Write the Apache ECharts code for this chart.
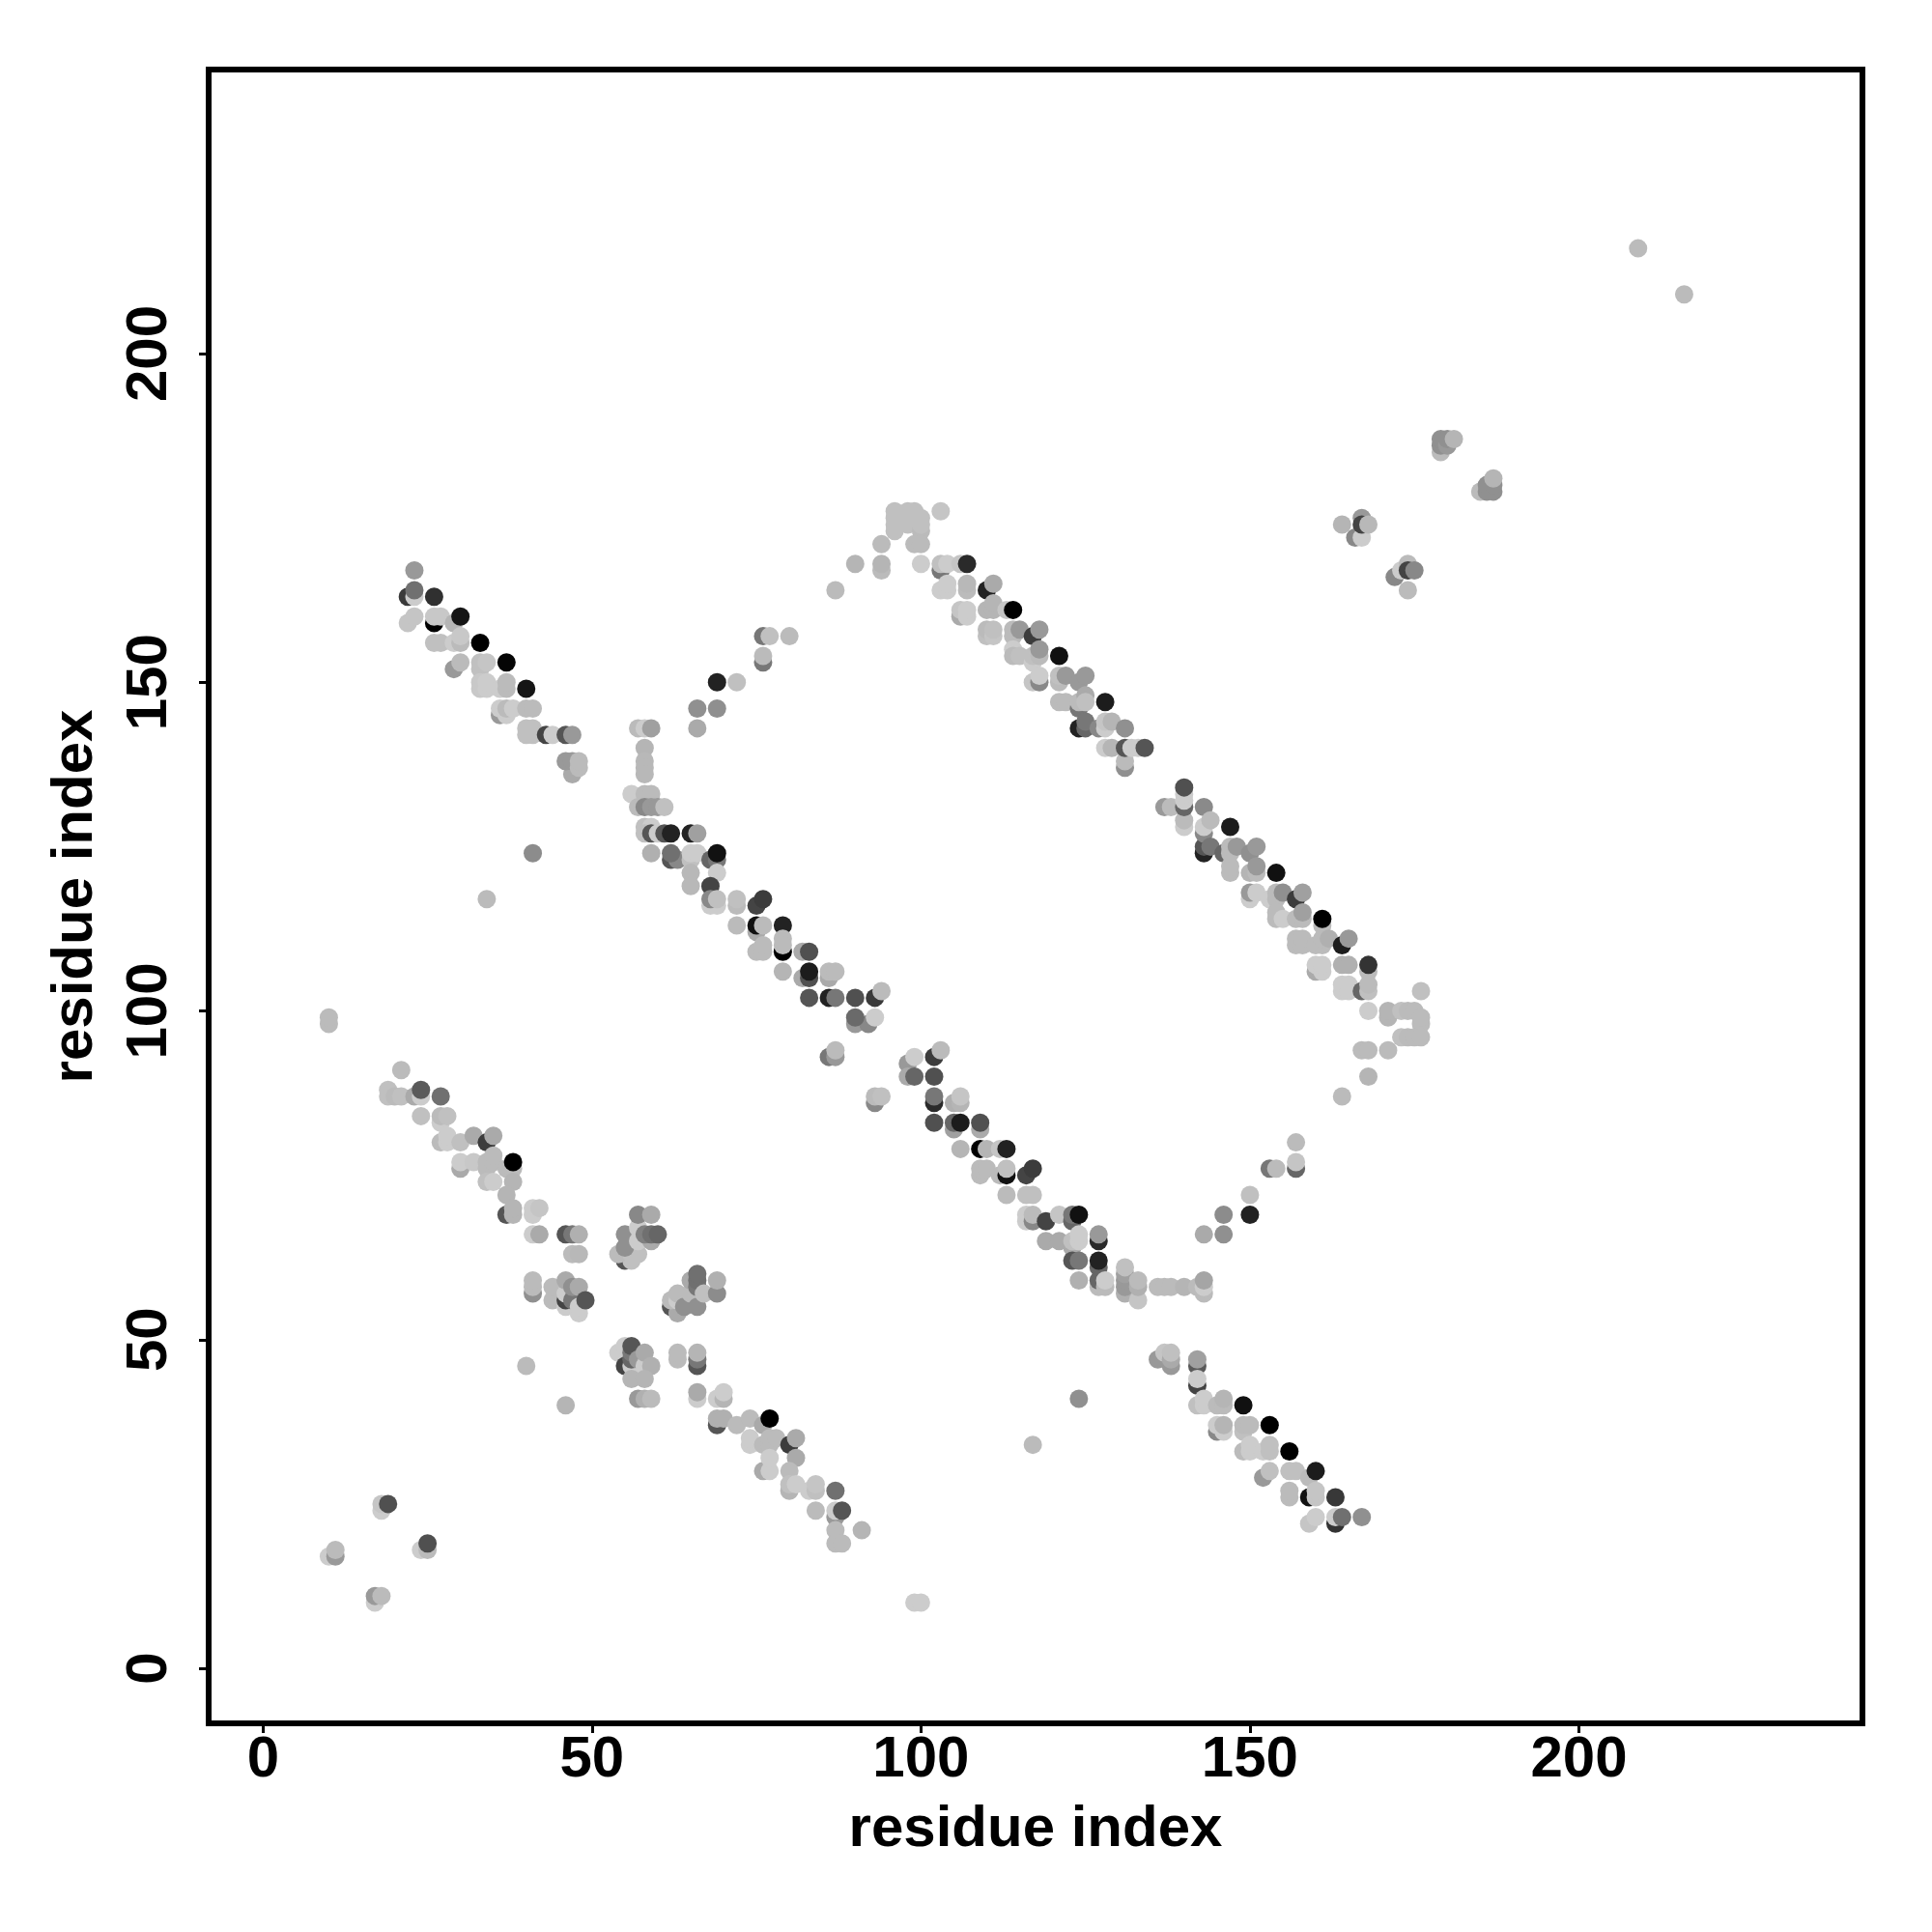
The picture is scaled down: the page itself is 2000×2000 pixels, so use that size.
<!DOCTYPE html>
<html>
<head>
<meta charset="utf-8">
<style>html,body{margin:0;padding:0;background:#fff}#c{width:2000px;height:2000px}</style>
<script src="https://cdn.jsdelivr.net/npm/echarts@6/dist/echarts.min.js"></script>
</head>
<body>
<div id="c"></div>
<script>
// every row: [residue x, residue y, grey level 0-255]
const tickValues = [0, 50, 100, 150, 200];
const axisTitle = 'residue index';

const isolated = [
  [10,98,187],[10,99,187],[99,10,204],[100,10,204],[40,46,187],[46,40,181],[117,34,187],[124,41,144],
  [209,216,187],[216,209,187],[18,24,204],[18,25,197],[19,25,80],[24,18,204],[25,18,187],[25,19,80],
  [10,17,204],[11,17,153],[11,18,187],[17,10,204],[17,11,153],[18,11,187],
  [69,150,34],[72,150,192],[76,153,119],[76,154,187],[76,157,119],[77,157,192],[80,157,187]
];
const upperLeftArm = [
  [23,167,153],[22,163,58],[23,163,204],[23,164,112],[26,163,48],[22,159,197],[23,160,197],[26,159,0],
  [26,160,200],[27,160,200],[29,159,181],[30,160,21],[26,156,192],[27,156,192],[29,156,204],[30,156,187],
  [30,157,200],[33,156,0],[37,153,5],[29,152,153],[30,153,187],[33,152,192],[33,153,192],[34,153,197],
  [33,149,200],[33,150,200],[34,149,204],[34,150,204],[36,149,204],[37,149,187],[37,150,187],[40,149,21],
  [36,145,153],[36,146,204],[37,145,204],[37,146,187],[38,146,204],[40,146,187],[41,146,187],[40,142,192],
  [40,143,192],[41,142,192],[41,143,192],[43,142,68],[44,142,204],[46,142,85],[47,142,153],[47,136,170],
  [46,138,153],[47,138,153],[48,137,187],[48,138,187],[41,124,140],[34,117,187]
];
const centreArm = [
  [66,146,144],[69,146,143],[66,143,170],[57,143,187],[58,143,204],[59,143,160],[58,140,181],[58,138,184],
  [58,137,184],[58,136,184],[56,133,204],[58,133,187],[59,133,187],[57,131,187],[58,131,136],[59,131,153],
  [60,131,153],[61,131,192],[58,128,192],[59,128,204],[58,127,192],[59,127,85],[60,127,204],[61,127,85],
  [62,127,34],[65,127,34],[66,127,160],[59,124,176],[62,123,85],[63,123,136],[62,124,112],[65,123,192],
  [65,124,204],[66,124,204],[68,123,102],[69,123,119],[69,124,17],[65,121,184],[69,121,204],[65,119,184],
  [68,119,68],[68,116,204],[69,116,204],[68,117,136],[69,117,192],[72,116,187],[72,117,192],[75,116,68],
  [76,117,60],[72,113,187],[75,112,170],[75,113,17],[76,113,187],[79,109,0],[79,113,34],[79,111,187],
  [79,110,187],[75,109,187],[76,109,187],[76,110,187],[82,109,170],[83,109,80],[79,106,181],[82,105,170],
  [83,105,80],[83,106,28],[86,105,170],[86,106,187],[87,106,187],[83,102,85],[86,102,34],[87,102,119],
  [90,102,80],[93,102,58],[94,103,187],[90,98,153],[92,98,136],[90,99,106],[93,99,204],[86,93,119],
  [87,93,153],[87,94,187],[98,92,153],[99,93,204],[102,93,60],[103,94,187],[98,90,170],[99,90,102],
  [102,90,80],[93,86,136],[93,87,187],[94,87,192],[102,86,42],[102,87,119],[105,86,176],[106,86,181],
  [106,87,197],[102,83,80],[105,82,160],[105,83,102],[106,83,28],[109,82,170],[109,83,80],[106,79,181],
  [109,79,0],[110,79,181],[112,79,197],[113,79,34],[109,75,187],[109,76,187],[110,76,187],[112,75,187],
  [113,75,17],[113,76,192],[116,75,68],[117,76,60],[113,72,187],[116,72,192],[117,72,192],[116,68,204],
  [116,69,204],[117,68,136],[117,69,187],[119,68,68],[121,69,197],[123,68,102],[123,69,119],[124,69,17],
  [119,65,170],[121,65,170],[123,64,170],[123,65,192],[124,65,204],[124,66,204],[127,65,42],[127,66,153],
  [123,62,85],[124,62,119],[127,61,102],[127,62,34],[127,58,187],[127,59,102],[128,58,187],[128,59,204],
  [124,59,176],[131,57,176],[131,58,153],[131,59,153],[131,60,160],[131,61,192],[133,56,197],[133,58,176],
  [133,59,187],[136,58,187],[137,58,187],[138,58,187],[140,58,181],[142,58,187],[143,57,187],[143,58,204],
  [143,59,165],[143,66,170],[146,66,144],[146,69,140],[150,69,34],[150,72,192],[153,76,119],[154,76,187],
  [157,76,102],[157,77,197],[157,80,187]
];
const upperRightArm = [
  [87,164,187],[90,168,181],[94,167,187],[94,168,181],[94,171,187],[96,173,192],[96,174,192],[96,175,192],
  [96,176,192],[98,176,192],[98,174,192],[99,176,192],[99,175,192],[100,173,187],[100,174,192],[100,175,192],
  [99,171,187],[100,171,187],[103,176,197],[100,168,204],[103,167,119],[103,168,192],[104,168,204],[106,168,197],
  [107,168,42],[103,164,204],[104,164,204],[104,165,204],[107,164,187],[107,165,184],[110,164,34],[111,165,170],
  [106,160,170],[106,161,197],[107,160,204],[107,161,204],[110,161,181],[111,161,181],[111,162,181],[113,161,197],
  [114,161,0],[110,157,192],[110,158,187],[111,157,197],[111,158,192],[114,157,187],[114,158,187],[115,158,153],
  [117,157,60],[118,158,153],[114,155,204],[114,154,187],[115,154,192],[117,153,204],[117,154,192],[118,154,187],
  [118,155,153],[121,154,17],[117,150,197],[118,150,136],[118,151,204],[121,150,187],[121,151,192],[122,151,153],
  [124,150,153],[125,151,153],[121,147,187],[122,147,187],[124,146,119],[124,147,187],[125,148,170],[125,147,192],
  [128,147,28],[124,143,34],[125,143,102],[125,144,119],[127,143,136],[128,143,204],[128,144,197],[129,144,181],
  [131,143,144],[128,140,204],[129,140,181],[131,137,144],[131,138,187],[131,140,85],[132,140,204],[133,140,204],
  [134,140,85],[137,131,153],[138,131,187],[140,128,204],[140,129,187],[140,131,102],[140,132,204],[140,133,204],
  [140,134,80],[143,131,138],[143,124,34],[143,125,85],[143,127,136],[144,125,119],[143,128,204],[144,129,187],
  [147,128,28],[146,124,102],[147,121,187],[147,122,187],[147,124,187],[147,125,187],[148,125,153],[150,124,144],
  [151,125,153],[150,121,181],[151,121,187],[151,122,153],[154,121,17],[150,117,204],[150,118,153],[151,118,204],
  [153,117,204],[154,117,187],[154,118,187],[155,118,144],[157,117,60],[158,118,160],[154,114,187],[154,115,187],
  [155,114,204],[157,114,187],[158,114,187],[158,115,160],[161,113,187],[161,114,0],[157,110,187],[157,111,187],
  [158,110,187],[158,111,187],[160,106,170],[160,110,187],[160,107,204],[161,106,204],[161,107,204],[161,110,187],
  [161,111,187],[162,111,176],[164,110,28],[165,111,153],[164,107,176],[165,107,176],[168,106,187],[168,107,51],
  [164,103,204],[164,104,204],[165,103,204],[165,104,204],[167,103,102],[168,103,192],[168,104,187],[168,100,204],
  [176,103,192],[171,99,181],[171,100,181],[173,100,192],[174,100,187],[175,100,187],[176,98,187],[176,99,187],
  [173,96,192],[174,96,187],[175,96,187],[176,96,187],[167,94,187],[168,94,187],[171,94,187],[168,90,181],[164,87,187]
];
const lowerLeftArm = [
  [21,91,187],[19,87,192],[19,88,192],[20,87,187],[21,87,192],[23,87,170],[24,87,204],[24,88,90],[27,87,112],
  [24,84,192],[27,83,204],[27,84,187],[28,84,192],[27,80,187],[28,80,204],[28,81,204],[30,80,192],[32,81,170],
  [34,80,60],[35,81,170],[30,76,170],[30,77,204],[32,77,200],[34,76,187],[34,77,187],[35,77,187],[35,78,187],
  [34,74,192],[35,74,204],[37,76,187],[38,76,187],[38,77,0],[38,74,181],[37,72,181],[37,69,85],[38,69,181],
  [38,70,181],[41,69,204],[41,70,204],[42,70,197],[41,66,204],[42,66,170],[46,66,85],[47,66,119],[48,66,176],
  [47,63,187],[48,63,184],[41,57,144],[41,58,187],[41,59,187],[44,56,187],[44,58,187],[46,55,204],[46,56,68],
  [46,57,204],[46,59,170],[47,56,119],[47,58,144],[48,54,204],[48,55,204],[48,58,170],[49,56,85]
];
const middleIsland = [
  [55,62,85],[56,62,192],[54,63,187],[56,63,192],[57,63,192],[55,64,144],[55,66,144],[57,65,204],[57,67,204],
  [57,69,136],[59,69,170],[59,65,170],[58,66,128],[59,66,112],[60,66,102],[62,55,85],[63,54,170],[62,56,187],
  [63,56,204],[64,56,204],[63,57,187],[64,55,144],[65,57,187],[65,59,170],[66,55,144],[66,58,119],[66,59,112],
  [66,60,112],[67,57,192],[69,57,140],[69,59,176]
];
const lowerCentreArm = [
  [54,48,204],[55,49,204],[55,46,68],[56,46,204],[56,47,102],[56,48,119],[56,49,85],[57,47,153],[58,46,204],
  [58,48,170],[59,46,176],[56,44,181],[58,44,181],[57,41,153],[58,41,176],[59,41,187],[63,47,187],[63,48,187],
  [66,46,85],[66,47,119],[66,48,181],[66,41,204],[66,42,170],[69,41,204],[70,41,181],[70,42,204],[69,37,85],
  [69,38,176],[70,38,176],[72,37,187],[74,38,187],[76,37,170],[77,38,0],[74,34,204],[74,35,204],[76,34,187],
  [77,34,187],[77,35,187],[78,35,187],[80,34,60],[81,35,170],[81,32,170],[76,30,170],[77,30,204],[77,32,204],
  [80,30,187],[80,27,181],[80,28,192],[81,28,204],[83,27,204],[84,27,192],[84,28,197],[87,27,112],[87,23,153],
  [87,24,204],[88,24,85],[84,24,187],[87,21,187],[91,21,181],[87,19,187],[88,19,187]
];
const lowerRightArm = [
  [136,47,153],[137,48,197],[138,46,153],[138,47,170],[138,48,192],[142,46,90],[142,47,160],[142,43,68],
  [142,44,204],[142,40,192],[143,40,204],[143,41,204],[145,40,187],[146,40,187],[146,41,181],[149,40,17],
  [145,36,136],[145,37,204],[146,36,204],[146,37,181],[149,36,192],[149,37,187],[150,37,187],[153,37,0],
  [149,33,187],[150,33,204],[150,34,204],[152,33,204],[153,33,192],[153,34,192],[156,33,0],[152,29,153],
  [153,30,192],[156,30,192],[157,30,192],[159,29,187],[160,30,28],[156,26,187],[156,27,187],[159,26,17],
  [160,26,197],[160,27,197],[163,26,56],[159,22,197],[160,23,204],[163,22,51],[163,23,204],[164,23,112],[167,23,144]
];
const upperRightIslands = [
  [164,174,181],[166,172,136],[167,172,204],[167,175,153],[167,174,68],[168,174,184],[172,166,136],[173,167,204],
  [174,168,187],[174,167,68],[175,167,136],[174,164,187],[179,185,187],[179,186,144],[179,187,144],[180,186,153],
  [180,187,144],[181,187,181],[185,179,187],[186,179,144],[186,180,144],[187,179,144],[187,180,144],[187,181,181]
];

const points = [].concat(isolated, upperLeftArm, lowerLeftArm, centreArm, upperRightArm,
  middleIsland, lowerCentreArm, lowerRightArm, upperRightIslands);

const font = {fontFamily: '"Liberation Sans", Arial, sans-serif', fontWeight: 'bold', fontSize: 60, color: '#000'};

function axis(labelRotate, labelMargin, nameGap) {
  return {
    type: 'value',
    min: -8.27,
    max: 243.1,
    splitLine: {show: false},
    axisLine: {show: true, onZero: false, lineStyle: {color: '#000', width: 1}},
    axisTick: {show: true, inside: false, length: 10, customValues: tickValues, lineStyle: {color: '#000', width: 3}},
    axisLabel: Object.assign({show: true, customValues: tickValues, rotate: labelRotate, margin: labelMargin,
      hideOverlap: false, showMinLabel: true, showMaxLabel: true}, font),
    name: axisTitle,
    nameLocation: 'middle',
    nameGap: nameGap,
    nameTextStyle: font
  };
}

const yAxisOpt = axis(90, 31, 108);
yAxisOpt.min = (1727 - 1784) / 6.805;
yAxisOpt.max = (1727 - 72) / 6.805;

const chart = echarts.init(document.getElementById('c'), null, {renderer: 'canvas'});
chart.setOption({
  animation: false,
  backgroundColor: '#ffffff',
  grid: {show: true, left: 216, right: 72, top: 72, bottom: 216, borderColor: '#000', borderWidth: 6, backgroundColor: 'transparent'},
  xAxis: axis(0, 8, 80),
  yAxis: yAxisOpt,
  series: [{
    type: 'scatter',
    symbol: 'circle',
    symbolSize: 19,
    silent: true,
    large: false,
    data: points,
    itemStyle: {
      opacity: 1,
      color: function (p) { const g = p.value[2]; return 'rgb(' + g + ',' + g + ',' + g + ')'; }
    }
  }]
});
</script>
</body>
</html>
